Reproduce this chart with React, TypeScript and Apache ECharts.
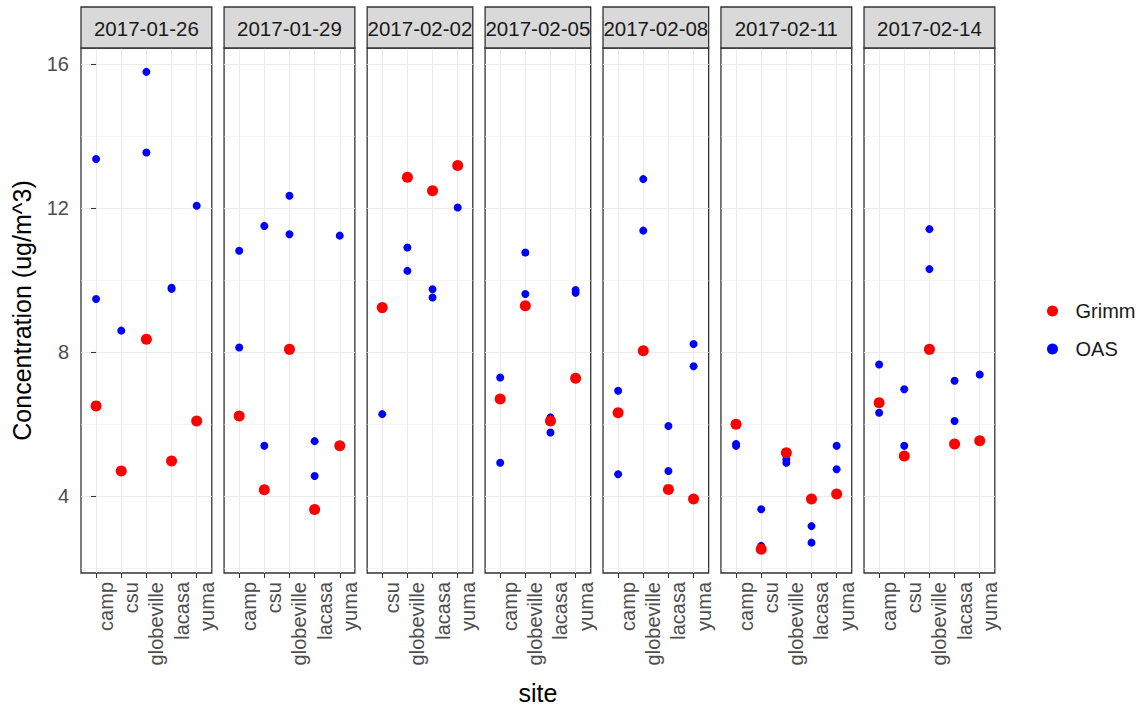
import { useEffect, useRef } from 'react';
import * as echarts from 'echarts';

// Sampling dates (one facet each) and the sites sampled on each date
const dates = ['2017-01-26', '2017-01-29', '2017-02-02', '2017-02-05', '2017-02-08', '2017-02-11', '2017-02-14'];
const sitesByDate = [
  ['camp', 'csu', 'globeville', 'lacasa', 'yuma'],
  ['camp', 'csu', 'globeville', 'lacasa', 'yuma'],
  ['csu', 'globeville', 'lacasa', 'yuma'],
  ['camp', 'globeville', 'lacasa', 'yuma'],
  ['camp', 'globeville', 'lacasa', 'yuma'],
  ['camp', 'csu', 'globeville', 'lacasa', 'yuma'],
  ['camp', 'csu', 'globeville', 'lacasa', 'yuma'],
];

// Grimm: one reading per site, same order as sitesByDate
const grimmByDate = [
  [6.5, 4.69, 8.35, 4.97, 6.08],
  [6.22, 4.17, 8.07, 3.62, 5.39],
  [9.23, 12.85, 12.48, 13.18],
  [6.69, 9.28, 6.08, 7.27],
  [6.31, 8.03, 4.18, 3.91],
  [5.99, 2.52, 5.2, 3.91, 4.05],
  [6.59, 5.11, 8.07, 5.44, 5.53],
];

// OAS: one or two readings per site, same order as sitesByDate
const oasByDate = [
  [[13.36, 9.47], [8.59], [15.78, 13.54], [9.78, 9.75], [12.06]],
  [[10.81, 8.12], [11.5, 5.39], [12.34, 11.27], [5.52, 4.55], [11.23]],
  [[6.27], [10.9, 10.25], [9.74, 9.51], [12.01]],
  [[7.29, 4.92], [10.76, 9.61], [6.18, 5.76], [9.72, 9.64]],
  [[6.92, 4.6], [12.8, 11.37], [5.94, 4.69], [8.22, 7.6]],
  [[5.44, 5.39], [3.63, 2.61], [5.02, 4.92], [3.16, 2.7], [5.39, 4.74]],
  [[7.65, 6.31], [6.96, 5.39], [11.41, 10.3], [7.2, 6.08], [7.37]],
];

const yTicks = [4, 8, 12, 16];
const yMinorTicks = [2, 6, 10, 14];

const FONT = '"Liberation Sans", Arial, sans-serif';
const PANEL_LEFT0 = 81;
const UNIT = 25.15;
const GAP = 12.3;
const PANEL_TOP = 48;
const PANEL_H = 525;
const STRIP_TOP = 7;

function buildOption() {
  // y range: data range expanded by 5% on both ends
  const all: number[] = [];
  grimmByDate.forEach((r) => all.push(...r));
  oasByDate.forEach((r) => r.forEach((s) => all.push(...s)));
  const lo = Math.min(...all);
  const hi = Math.max(...all);
  const pad = (hi - lo) * 0.05;
  const yMin = lo - pad;
  const yMax = hi + pad;

  const grids: any[] = [];
  const xAxes: any[] = [];
  const yAxes: any[] = [];
  const series: any[] = [];
  const graphics: any[] = [];

  let left = PANEL_LEFT0;
  dates.forEach((date, i) => {
    const sites = sitesByDate[i];
    const n = sites.length;
    const width = (n + 0.2) * UNIT;
    const idx = sites.map((_, j) => j);

    grids.push({
      left,
      top: PANEL_TOP,
      width,
      height: PANEL_H,
      show: true,
      backgroundColor: '#ffffff',
      borderColor: '#333333',
      borderWidth: 1.3,
    });

    xAxes.push({
      type: 'value',
      gridIndex: i,
      min: -0.6,
      max: n - 0.4,
      axisLine: { show: false },
      axisTick: {
        show: true,
        length: 5,
        customValues: idx,
        lineStyle: { color: '#333333', width: 1.07 },
      },
      axisLabel: {
        customValues: idx,
        rotate: 90,
        margin: 9,
        verticalAlign: 'top',
        fontSize: 20,
        fontFamily: FONT,
        color: '#4D4D4D',
        formatter: (v: number) => sites[Math.round(v)],
      },
      splitLine: { show: true, lineStyle: { color: '#EBEBEB', width: 1.07 } },
    });

    yAxes.push({
      type: 'value',
      gridIndex: i,
      min: yMin,
      max: yMax,
      axisLine: { show: false },
      axisTick: {
        show: i === 0,
        length: 5,
        customValues: yTicks,
        lineStyle: { color: '#333333', width: 1.07 },
      },
      axisLabel: {
        show: i === 0,
        customValues: yTicks,
        margin: 12,
        fontSize: 20,
        fontFamily: FONT,
        color: '#4D4D4D',
      },
      splitLine: { show: true, lineStyle: { color: '#EBEBEB', width: 1.07 } },
    });
    // minor horizontal grid lines
    yAxes.push({
      type: 'value',
      gridIndex: i,
      position: 'left',
      min: yMin,
      max: yMax,
      axisLine: { show: false },
      axisTick: { show: false, customValues: yMinorTicks },
      axisLabel: { show: false, customValues: yMinorTicks },
      splitLine: { show: true, lineStyle: { color: '#EBEBEB', width: 0.55 } },
    });

    const oasData: number[][] = [];
    oasByDate[i].forEach((vals, j) => vals.forEach((v) => oasData.push([j, v])));
    const grimmData = grimmByDate[i].map((v, j) => [j, v]);

    series.push({
      type: 'scatter',
      name: 'OAS',
      xAxisIndex: i,
      yAxisIndex: 2 * i,
      data: oasData,
      symbol: 'circle',
      symbolSize: 8,
      itemStyle: { color: '#0000FF', opacity: 1 },
      z: 3,
    });
    series.push({
      type: 'scatter',
      name: 'Grimm',
      xAxisIndex: i,
      yAxisIndex: 2 * i,
      data: grimmData,
      symbol: 'circle',
      symbolSize: 11,
      itemStyle: { color: '#FF0000', opacity: 1 },
      z: 4,
    });

    // facet strip
    graphics.push({
      type: 'rect',
      shape: { x: left, y: STRIP_TOP, width, height: PANEL_TOP - STRIP_TOP },
      style: { fill: '#D9D9D9', stroke: '#333333', lineWidth: 1.3 },
      z: 10,
    });
    graphics.push({
      type: 'text',
      x: left + width / 2,
      y: (STRIP_TOP + PANEL_TOP) / 2 + 1,
      style: {
        text: date,
        font: `20.5px ${FONT}`,
        fill: '#1A1A1A',
        align: 'center',
        verticalAlign: 'middle',
        textAlign: 'center',
        textVerticalAlign: 'middle',
      },
      z: 11,
    });

    left += width + GAP;
  });

  graphics.push({
    type: 'text',
    x: 22,
    y: PANEL_TOP + PANEL_H / 2,
    rotation: Math.PI / 2,
    style: {
      text: 'Concentration (ug/m^3)',
      font: `25px ${FONT}`,
      fill: '#000000',
      align: 'center',
      verticalAlign: 'middle',
      textAlign: 'center',
      textVerticalAlign: 'middle',
    },
    z: 11,
  });
  graphics.push({
    type: 'text',
    x: (PANEL_LEFT0 + left - GAP) / 2,
    y: 693,
    style: {
      text: 'site',
      font: `25px ${FONT}`,
      fill: '#000000',
      align: 'center',
      verticalAlign: 'middle',
      textAlign: 'center',
      textVerticalAlign: 'middle',
    },
    z: 11,
  });

  return {
    animation: false,
    backgroundColor: '#ffffff',
    grid: grids,
    xAxis: xAxes,
    yAxis: yAxes,
    series,
    legend: {
      data: ['Grimm', 'OAS'],
      orient: 'vertical',
      left: 1042,
      top: 296,
      icon: 'circle',
      itemWidth: 36,
      itemHeight: 11,
      itemGap: 18,
      textStyle: { fontSize: 20, fontFamily: FONT, color: '#1A1A1A' },
      selectedMode: false,
    },
    graphic: graphics,
  };
}

export default function App() {
  const ref = useRef<HTMLDivElement>(null);
  useEffect(() => {
    if (!ref.current) return;
    const chart = echarts.init(ref.current, undefined, { renderer: 'svg' });
    chart.setOption(buildOption() as any);
    return () => chart.dispose();
  }, []);
  return (
    <div
      ref={ref}
      style={{ position: 'fixed', left: 0, top: 0, width: 1141, height: 708, background: '#ffffff' }}
    />
  );
}
